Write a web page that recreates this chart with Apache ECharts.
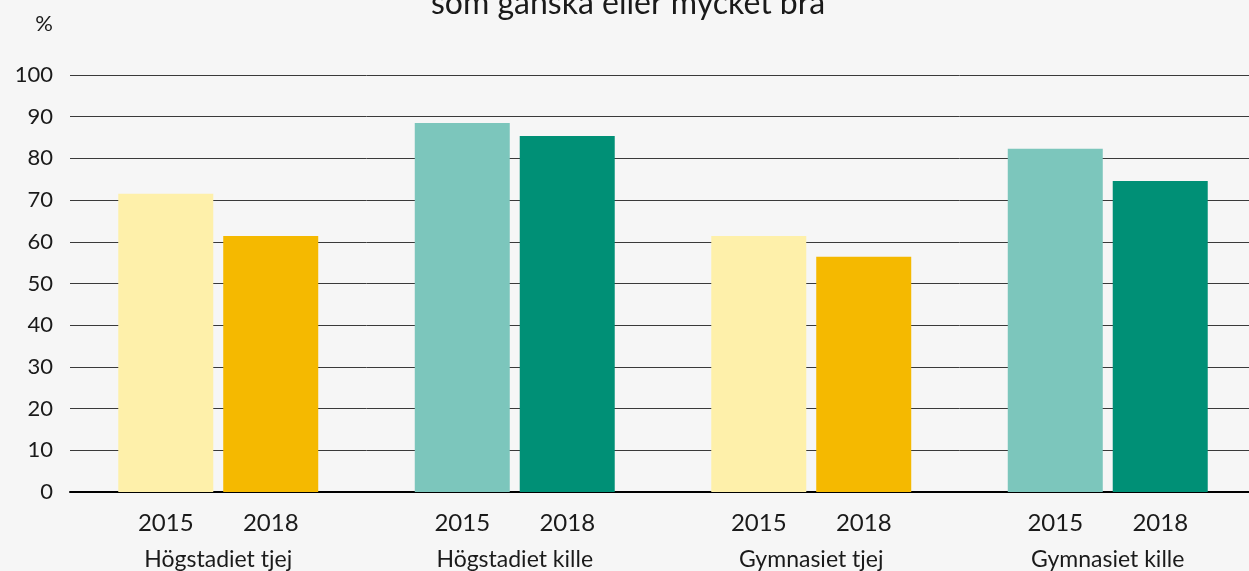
<!DOCTYPE html>
<html>
<head>
<meta charset="utf-8">
<style>
  html, body { margin: 0; padding: 0; background: #f6f6f6; overflow: hidden; }
  /* lite bredare än fönstret: sista gruppen skärs av i högerkanten som i originalet */
  #chart { width: 1256px; height: 571px; }
</style>
<script src="https://cdn.jsdelivr.net/npm/echarts@6/dist/echarts.min.js"></script>
</head>
<body>
<div id="chart"></div>
<script>
  // grupper och värden (procent)
  const groups = ['Högstadiet tjej', 'Högstadiet kille', 'Gymnasiet tjej', 'Gymnasiet kille'];
  const years = ['2015', '2018'];
  const values2015 = [71.5, 88.5, 61.4, 82.3];
  const values2018 = [61.4, 85.4, 56.4, 74.6];
  const yTicks = [0, 10, 20, 30, 40, 50, 60, 70, 80, 90, 100];

  const light = ['#fef0aa', '#7cc6bc', '#fef0aa', '#7cc6bc'];
  const dark = ['#f5b900', '#009076', '#f5b900', '#009076'];

  const font = 'Lato, "Noto Sans", sans-serif';

  const chart = echarts.init(document.getElementById('chart'));

  function makeSeries(name, values, colors) {
    return {
      name: name,
      type: 'bar',
      barWidth: 95,
      barGap: '10.5%',
      data: values.map((v, i) => ({ value: v, itemStyle: { color: colors[i] } })),
      label: {
        show: true,
        position: 'bottom',
        distance: 19,
        formatter: name,
        color: '#1a1a1a',
        fontSize: 24,
        fontFamily: font,
      },
    };
  }

  chart.setOption({
    backgroundColor: '#f6f6f6',
    animation: false,
    title: {
      text: 'som ganska eller mycket bra',
      left: 'center',
      top: -17,
      textStyle: { fontSize: 32, fontWeight: 'normal', color: '#1a1a1a', fontFamily: font },
    },
    grid: { left: 70, right: 0, top: 75, bottom: 79 },
    xAxis: {
      type: 'category',
      data: groups,
      axisTick: { show: false },
      axisLine: { lineStyle: { color: '#000', width: 2 } },
      axisLabel: { margin: 56, fontSize: 23, color: '#1a1a1a', fontFamily: font },
    },
    yAxis: {
      type: 'value',
      min: yTicks[0],
      max: yTicks[yTicks.length - 1],
      interval: 10,
      name: '%',
      nameGap: 40,
      nameTextStyle: { align: 'right', padding: [0, 17, 0, 0], fontSize: 22, color: '#1a1a1a', fontFamily: font },
      axisLine: { show: false },
      axisTick: { show: false },
      axisLabel: { margin: 17, fontSize: 22, color: '#1a1a1a', fontFamily: font },
      splitLine: { lineStyle: { color: '#3a3a3a', width: 1 } },
    },
    series: [
      makeSeries(years[0], values2015, light),
      makeSeries(years[1], values2018, dark),
    ],
  });
</script>
</body>
</html>
